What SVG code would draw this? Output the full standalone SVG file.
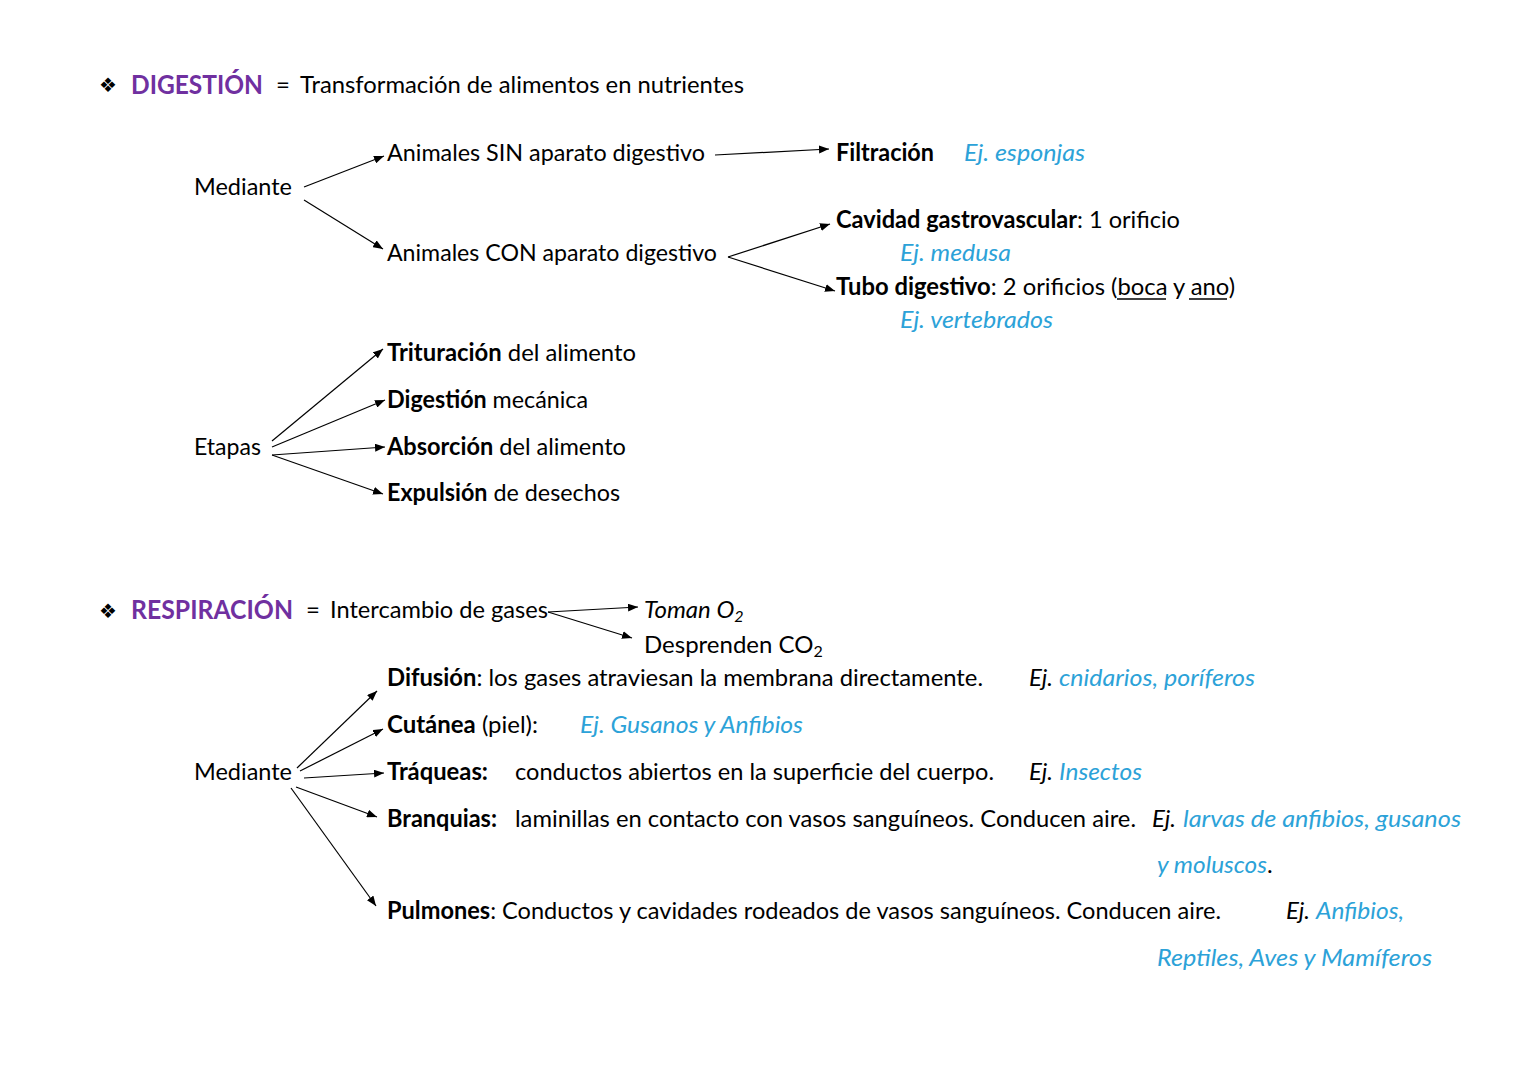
<svg xmlns="http://www.w3.org/2000/svg" width="1527" height="1080" viewBox="0 0 1527 1080">
<style>
text{font-family:Lato,"Open Sans","Liberation Sans",sans-serif;font-size:24px;fill:#000}
.b{font-weight:bold}
.h{font-weight:bold;fill:#7030A0;font-size:27px}
.ex{font-style:italic;fill:#2CA2D8}
.it{font-style:italic}
.bul{font-family:"DejaVu Sans",sans-serif;font-size:20px}
.c line{stroke:#000;stroke-width:1.2;marker-end:url(#ah)}
</style>
<defs>
<marker id="ah" markerUnits="userSpaceOnUse" markerWidth="10" markerHeight="8" refX="10" refY="4" orient="auto">
<path d="M0,0 L10,4 L0,8 z" fill="#000"/>
</marker>
</defs>
<rect width="1527" height="1080" fill="#fff"/>

<g id="digestion-title">
<text class="bul" x="99" y="92">❖</text>
<text class="h" x="131" y="94" textLength="132" lengthAdjust="spacingAndGlyphs">DIGESTIÓN</text>
<text x="276" y="93">=</text>
<text x="300" y="93" textLength="444" lengthAdjust="spacingAndGlyphs">Transformación de alimentos en nutrientes</text>
</g>
<g id="mediante-dig"><text x="194" y="195" textLength="98" lengthAdjust="spacingAndGlyphs">Mediante</text></g>
<g id="sin"><text x="387" y="161" textLength="318" lengthAdjust="spacingAndGlyphs">Animales SIN aparato digestivo</text></g>
<g id="filtracion">
<text class="b" x="836" y="161" textLength="98" lengthAdjust="spacingAndGlyphs">Filtración</text>
<text class="ex" x="964" y="161" textLength="121" lengthAdjust="spacingAndGlyphs">Ej. esponjas</text>
</g>
<g id="con"><text x="387" y="261" textLength="330" lengthAdjust="spacingAndGlyphs">Animales CON aparato digestivo</text></g>
<g id="cavidad">
<text x="836" y="228" textLength="344" lengthAdjust="spacingAndGlyphs"><tspan class="b">Cavidad gastrovascular</tspan>: 1 orificio</text>
<text class="ex" x="900" y="261" textLength="111" lengthAdjust="spacingAndGlyphs">Ej. medusa</text>
</g>
<g id="tubo">
<text x="836" y="295" textLength="399" lengthAdjust="spacingAndGlyphs"><tspan class="b">Tubo digestivo</tspan>: 2 orificios (boca y ano)</text>
<line x1="1117" y1="299" x2="1166" y2="299" stroke="#000" stroke-width="1.3"/>
<line x1="1189" y1="299" x2="1227" y2="299" stroke="#000" stroke-width="1.3"/>
<text class="ex" x="900" y="328" textLength="153" lengthAdjust="spacingAndGlyphs">Ej. vertebrados</text>
</g>
<g id="etapas"><text x="194" y="455" textLength="67" lengthAdjust="spacingAndGlyphs">Etapas</text></g>
<g id="trituracion"><text x="387" y="361" textLength="249" lengthAdjust="spacingAndGlyphs"><tspan class="b">Trituración</tspan> del alimento</text></g>
<g id="digestion-mec"><text x="387" y="408" textLength="201" lengthAdjust="spacingAndGlyphs"><tspan class="b">Digestión</tspan> mecánica</text></g>
<g id="absorcion"><text x="387" y="455" textLength="239" lengthAdjust="spacingAndGlyphs"><tspan class="b">Absorción</tspan> del alimento</text></g>
<g id="expulsion"><text x="387" y="501" textLength="233" lengthAdjust="spacingAndGlyphs"><tspan class="b">Expulsión</tspan> de desechos</text></g>

<g id="respiracion-title">
<text class="bul" x="99" y="618">❖</text>
<text class="h" x="131" y="619" textLength="162" lengthAdjust="spacingAndGlyphs">RESPIRACIÓN</text>
<text x="306" y="618">=</text>
<text x="330" y="618" textLength="218" lengthAdjust="spacingAndGlyphs">Intercambio de gases</text>
</g>
<g id="toman"><text class="it" x="644" y="618">Toman O<tspan font-size="16" dy="4">2</tspan></text></g>
<g id="desprenden"><text x="644" y="653">Desprenden CO<tspan font-size="16" dy="4">2</tspan></text></g>
<g id="mediante-resp"><text x="194" y="780" textLength="98" lengthAdjust="spacingAndGlyphs">Mediante</text></g>
<g id="difusion">
<text x="387" y="686" textLength="596" lengthAdjust="spacingAndGlyphs"><tspan class="b">Difusión</tspan>: los gases atraviesan la membrana directamente.</text>
<text class="it" x="1029" y="686">Ej.</text>
<text class="ex" x="1059" y="686" textLength="196" lengthAdjust="spacingAndGlyphs">cnidarios, poríferos</text>
</g>
<g id="cutanea">
<text x="387" y="733" textLength="151" lengthAdjust="spacingAndGlyphs"><tspan class="b">Cutánea</tspan> (piel):</text>
<text class="ex" x="580" y="733" textLength="223" lengthAdjust="spacingAndGlyphs">Ej. Gusanos y Anfibios</text>
</g>
<g id="traqueas">
<text class="b" x="387" y="780" textLength="101" lengthAdjust="spacingAndGlyphs">Tráqueas:</text>
<text x="515" y="780" textLength="479" lengthAdjust="spacingAndGlyphs">conductos abiertos en la superficie del cuerpo.</text>
<text class="it" x="1029" y="780">Ej.</text>
<text class="ex" x="1059" y="780" textLength="83" lengthAdjust="spacingAndGlyphs">Insectos</text>
</g>
<g id="branquias">
<text class="b" x="387" y="827" textLength="110" lengthAdjust="spacingAndGlyphs">Branquias:</text>
<text x="515" y="827" textLength="621" lengthAdjust="spacingAndGlyphs">laminillas en contacto con vasos sanguíneos. Conducen aire.</text>
<text class="it" x="1152" y="827">Ej.</text>
<text class="ex" x="1183" y="827" textLength="278" lengthAdjust="spacingAndGlyphs">larvas de anfibios, gusanos</text>
<text class="ex" x="1157" y="873" textLength="110" lengthAdjust="spacingAndGlyphs">y moluscos</text>
<text x="1267" y="873">.</text>
</g>
<g id="pulmones">
<text x="387" y="919" textLength="834" lengthAdjust="spacingAndGlyphs"><tspan class="b">Pulmones</tspan>: Conductos y cavidades rodeados de vasos sanguíneos. Conducen aire.</text>
<text class="it" x="1286" y="919">Ej.</text>
<text class="ex" x="1316" y="919" textLength="88" lengthAdjust="spacingAndGlyphs">Anfibios,</text>
<text class="ex" x="1157" y="966" textLength="275" lengthAdjust="spacingAndGlyphs">Reptiles, Aves y Mamíferos</text>
</g>

<g id="connectors" class="c">
<line x1="304" y1="187" x2="384" y2="156"/>
<line x1="304" y1="200" x2="383" y2="249"/>
<line x1="715" y1="155" x2="829" y2="149"/>
<line x1="728" y1="257" x2="830" y2="224"/>
<line x1="728" y1="257" x2="835" y2="291"/>
<line x1="272" y1="441" x2="383" y2="349"/>
<line x1="272" y1="447" x2="385" y2="400"/>
<line x1="272" y1="455" x2="385" y2="447"/>
<line x1="272" y1="455" x2="383" y2="494"/>
<line x1="548" y1="612" x2="638" y2="607"/>
<line x1="548" y1="612" x2="632" y2="638"/>
<line x1="297" y1="768" x2="377" y2="691"/>
<line x1="300" y1="771" x2="383" y2="729"/>
<line x1="304" y1="778" x2="384" y2="773"/>
<line x1="296" y1="787" x2="377" y2="817"/>
<line x1="291" y1="788" x2="376" y2="906"/>
</g>
</svg>
